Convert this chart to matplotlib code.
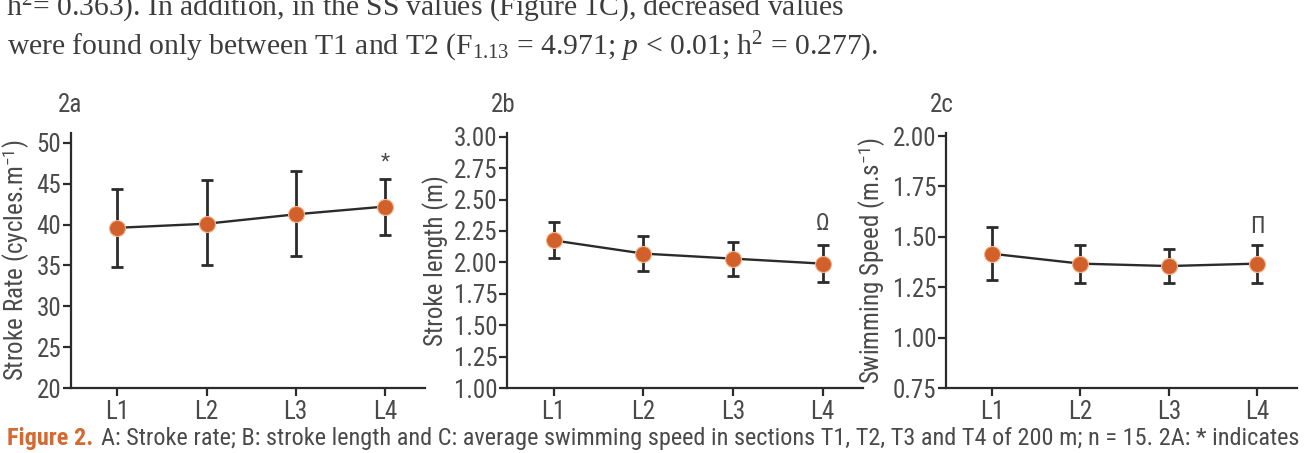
import numpy as np
import matplotlib
matplotlib.use("Agg")
import matplotlib.pyplot as plt
from matplotlib import font_manager

# ---------------- data ----------------
laps = ["L1", "L2", "L3", "L4"]

sr_mean = [39.6, 40.1, 41.25, 42.2]
sr_low = [34.8, 35.0, 36.2, 38.75]
sr_high = [44.4, 45.4, 46.5, 45.6]

sl_mean = [2.175, 2.07, 2.03, 1.99]
sl_low = [2.035, 1.935, 1.895, 1.84]
sl_high = [2.32, 2.21, 2.16, 2.14]

ss_mean = [1.416, 1.367, 1.355, 1.367]
ss_low = [1.286, 1.271, 1.27, 1.27]
ss_high = [1.549, 1.459, 1.438, 1.459]

sr_ticks = [20, 25, 30, 35, 40, 45, 50]
sl_ticks = [1.00, 1.25, 1.50, 1.75, 2.00, 2.25, 2.50, 2.75, 3.00]
ss_ticks = [0.75, 1.00, 1.25, 1.50, 1.75, 2.00]

sig_marks = ["*", "\u03a9", "\u03a0"]
sig_y = [47.6, 2.31, 1.553]

panel_tags = ["2a", "2b", "2c"]
ylabels = ["Stroke Rate (cycles.m$^{\\mathsf{-1}}$)", "Stroke length (m)",
           "Swimming Speed (m.s$^{\\mathsf{-1}}$)"]

line1 = "h$^{2}$= 0.363). In addition, in the SS values (Figure 1C), decreased values"
line2 = "were found only between T1 and T2 (F$_{1.13}$ = 4.971; $p$ < 0.01; h$^{2}$ = 0.277)."
cap_head = "Figure 2."
cap_body = ("A: Stroke rate; B: stroke length and C: average swimming speed in sections "
            "T1, T2, T3 and T4 of 200 m; n = 15. 2A: * indicates")

# ---------------- fonts ----------------
names = {f.name for f in font_manager.fontManager.ttflist}
if "Liberation Sans Narrow" in names:
    SANS = ["Liberation Sans Narrow", "DejaVu Sans"]
    STRETCH = "normal"
elif "Roboto Condensed" in names:
    SANS = ["Roboto Condensed", "DejaVu Sans"]
    STRETCH = "normal"
else:
    SANS = ["DejaVu Sans"]
    STRETCH = "condensed"
SERIF = ["Liberation Serif", "DejaVu Serif"]

plt.rcParams["font.family"] = SANS
plt.rcParams["font.stretch"] = STRETCH
plt.rcParams["mathtext.fontset"] = "custom"
plt.rcParams["mathtext.rm"] = SERIF[0]
plt.rcParams["mathtext.it"] = SERIF[0] + ":italic"
plt.rcParams["mathtext.sf"] = SANS[0]

W, H = 1305, 453
DPI = 100
fig = plt.figure(figsize=(W / DPI, H / DPI), dpi=DPI)

ORANGE = "#D2602A"
DARK = "#2b2b2b"
GRAY = "#4a4a4a"
TXT = "#3c3c3c"

ax_left_px = [71, 507, 946]
ax_right_px = [425, 863, 1297]
ax_top_px, ax_bot_px = 133, 388

means = [sr_mean, sl_mean, ss_mean]
lows = [sr_low, sl_low, ss_low]
highs = [sr_high, sl_high, ss_high]
ticks = [sr_ticks, sl_ticks, ss_ticks]
ylims = [(20, 51.2), (1.0, 3.03), (0.75, 2.015)]
fmts = ["{:.0f}", "{:.2f}", "{:.2f}"]

x = np.arange(1, len(laps) + 1)
TICK_FS = 18

for i in range(3):
    l = ax_left_px[i] / W
    w = (ax_right_px[i] - ax_left_px[i]) / W
    b = 1 - ax_bot_px / H
    h = (ax_bot_px - ax_top_px) / H
    ax = fig.add_axes([l, b, w, h])
    m = np.array(means[i])
    lo = np.array(lows[i])
    hi = np.array(highs[i])
    ax.plot(x, m, color=DARK, lw=1.7, zorder=2)
    ax.errorbar(x, m, yerr=[m - lo, hi - m], fmt="none", ecolor=DARK,
                elinewidth=2.0, capsize=4.5, capthick=2.0, zorder=3)
    ax.plot(x, m, "o", ms=11.5, mfc=ORANGE, mec="#F0B48C", mew=0.8, zorder=4)
    ax.text(x[-1], sig_y[i], sig_marks[i], ha="center", va="center",
            fontsize=17 if i else 15, color=GRAY)

    ax.set_xlim(0.48, 4.45)
    ax.set_ylim(*ylims[i])
    ax.set_xticks(x)
    ax.set_xticklabels(laps)
    ax.set_yticks(ticks[i])
    ax.set_yticklabels([fmts[i].format(v) for v in ticks[i]])
    for s in ["top", "right"]:
        ax.spines[s].set_visible(False)
    for s in ["left", "bottom"]:
        ax.spines[s].set_linewidth(1.6)
        ax.spines[s].set_color(DARK)
    ax.tick_params(axis="both", direction="out", length=5.5, width=1.6,
                   color=DARK, labelsize=TICK_FS, labelcolor=GRAY, pad=1.5)
    ax.tick_params(axis="x", pad=3)
    ax.set_ylabel(ylabels[i], fontsize=TICK_FS, color=GRAY, labelpad=3)
    ax.patch.set_alpha(0)

    tag_x = [70, 503, 942][i]
    fig.text(tag_x / W, 1 - 105 / H, panel_tags[i], ha="center", va="center",
             fontsize=TICK_FS, color=GRAY)

# ---------------- body text (serif) and caption ----------------
renderer = fig.canvas.get_renderer()


def fit(t, target_px):
    wpx = t.get_window_extent(renderer).width
    t.set_fontsize(t.get_fontsize() * target_px / wpx)


t1 = fig.text(6 / W, 1 - 16 / H, line1, family=SERIF, fontsize=19,
              color=TXT, ha="left", va="baseline")
t2 = fig.text(7 / W, 1 - 55 / H, line2, family=SERIF, fontsize=19,
              color=TXT, ha="left", va="baseline")
fit(t1, 876)
fit(t2, 871)
fs = min(t1.get_fontsize(), t2.get_fontsize())
t1.set_fontsize(fs)
t2.set_fontsize(fs)

cap_y = 1 - 445 / H
c1 = fig.text(7 / W, cap_y, cap_head, fontsize=16, weight="bold", color="#D36A32",
              ha="left", va="baseline")
c2 = fig.text(0, cap_y, cap_body, fontsize=16, color=GRAY, ha="left", va="baseline")
w1 = c1.get_window_extent(renderer).width
w2 = c2.get_window_extent(renderer).width
gap = 0.3 * 16 * DPI / 72
scale = (1293 - gap) / (w1 + w2)
cfs = 16 * scale
c1.set_fontsize(cfs)
c2.set_fontsize(cfs)
w1 = c1.get_window_extent(renderer).width
c2.set_x((7 + w1 + 0.3 * cfs * DPI / 72) / W)

fig.savefig("out.png", dpi=DPI)
